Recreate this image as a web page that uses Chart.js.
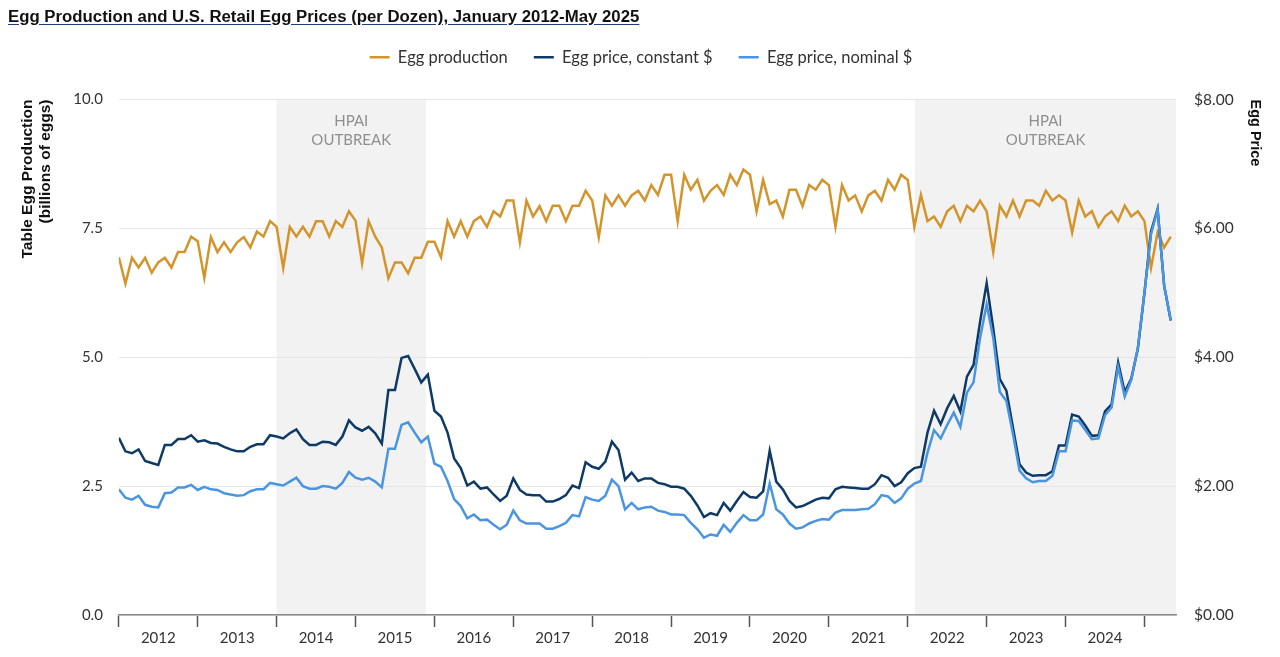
<!DOCTYPE html>
<html>
<head>
<meta charset="utf-8">
<script src="https://cdn.jsdelivr.net/npm/chart.js@4.4.1/dist/chart.umd.min.js"></script>
<style>
  html, body { margin: 0; padding: 0; background: #fff; }
  #wrap { position: relative; width: 1280px; height: 657px; }
  #titre {
    position: absolute; left: 8px; top: 7px;
    font-family: "Liberation Sans", Arial, sans-serif;
    font-weight: bold; font-size: 16.8px; color: #111;
    text-decoration: underline; text-decoration-color: #1f3f7a;
    text-underline-offset: 2px;
    z-index: 2;
  }
  canvas { position: absolute; left: 0; top: 0; }
</style>
</head>
<body>
<div id="wrap">
  <div id="titre">Egg Production and U.S. Retail Egg Prices (per Dozen), January 2012-May 2025</div>
  <canvas id="grafico" width="1280" height="657"></canvas>
</div>
<script>
// --- Dados (jan 2012 - mai 2025, mensal) ---
const anos = ['2012', '2013', '2014', '2015', '2016', '2017', '2018', '2019', '2020', '2021', '2022', '2023', '2024'];

// produção de ovos de mesa (bilhões)
const producao = [
    6.94, 6.43, 6.93, 6.74, 6.93, 6.64, 6.84, 6.93, 6.74, 7.04, 7.04, 7.34,
    7.25, 6.54, 7.33, 7.04, 7.23, 7.04, 7.23, 7.33, 7.13, 7.44, 7.34, 7.64,
    7.53, 6.73, 7.53, 7.34, 7.53, 7.34, 7.64, 7.64, 7.34, 7.64, 7.53, 7.83,
    7.65, 6.82, 7.64, 7.34, 7.13, 6.53, 6.84, 6.84, 6.63, 6.93, 6.93, 7.24,
    7.24, 6.94, 7.64, 7.34, 7.64, 7.34, 7.64, 7.73, 7.53, 7.83, 7.73, 8.04,
    8.04, 7.23, 8.04, 7.73, 7.93, 7.64, 7.94, 7.94, 7.64, 7.94, 7.94, 8.23,
    8.04, 7.33, 8.14, 7.94, 8.14, 7.94, 8.14, 8.23, 8.04, 8.34, 8.15, 8.54,
    8.54, 7.64, 8.54, 8.25, 8.44, 8.04, 8.23, 8.34, 8.15, 8.54, 8.34, 8.64,
    8.54, 7.83, 8.44, 7.97, 8.04, 7.73, 8.25, 8.25, 7.93, 8.34, 8.25, 8.44,
    8.34, 7.53, 8.34, 8.04, 8.14, 7.83, 8.14, 8.23, 8.04, 8.44, 8.25, 8.54,
    8.44, 7.53, 8.15, 7.64, 7.73, 7.53, 7.83, 7.94, 7.64, 7.94, 7.83, 8.04,
    7.83, 7.04, 7.94, 7.73, 8.04, 7.73, 8.04, 8.04, 7.94, 8.23, 8.04, 8.14,
    8.04, 7.42, 8.04, 7.73, 7.83, 7.53, 7.73, 7.83, 7.64, 7.94, 7.73, 7.83,
    7.64, 6.73, 7.42, 7.13, 7.34
];

// preço, dólares constantes
const precoConstante = [
    2.75, 2.54, 2.51, 2.57, 2.39, 2.36, 2.33, 2.64, 2.64, 2.73, 2.73, 2.79,
    2.69, 2.71, 2.67, 2.66, 2.61, 2.57, 2.54, 2.54, 2.61, 2.65, 2.65, 2.79,
    2.77, 2.74, 2.82, 2.88, 2.73, 2.64, 2.64, 2.69, 2.68, 2.64, 2.77, 3.02,
    2.91, 2.86, 2.92, 2.82, 2.66, 3.49, 3.49, 3.99, 4.02, 3.82, 3.61, 3.73,
    3.17, 3.08, 2.83, 2.43, 2.28, 2.01, 2.07, 1.96, 1.98, 1.87, 1.77, 1.85,
    2.12, 1.94, 1.87, 1.86, 1.86, 1.76, 1.76, 1.80, 1.86, 2.01, 1.97, 2.37,
    2.30, 2.27, 2.38, 2.69, 2.56, 2.10, 2.21, 2.08, 2.12, 2.12, 2.05, 2.03,
    1.99, 1.99, 1.96, 1.85, 1.70, 1.52, 1.58, 1.55, 1.74, 1.62, 1.77, 1.91,
    1.83, 1.82, 1.92, 2.55, 2.07, 1.95, 1.77, 1.67, 1.69, 1.74, 1.79, 1.82,
    1.81, 1.95, 1.99, 1.98, 1.97, 1.96, 1.96, 2.03, 2.17, 2.13, 2.00, 2.06,
    2.20, 2.28, 2.30, 2.83, 3.17, 2.96, 3.21, 3.40, 3.16, 3.70, 3.88, 4.55,
    5.15, 4.45, 3.66, 3.48, 2.91, 2.34, 2.21, 2.16, 2.17, 2.17, 2.23, 2.63,
    2.63, 3.11, 3.08, 2.94, 2.78, 2.79, 3.16, 3.27, 3.92, 3.46, 3.67, 4.13,
    5.00, 5.95, 6.30, 5.11, 4.57
];

// preço, dólares nominais
const precoNominal = [
    1.95, 1.82, 1.79, 1.85, 1.71, 1.68, 1.67, 1.89, 1.90, 1.98, 1.98, 2.02,
    1.94, 1.99, 1.95, 1.94, 1.89, 1.87, 1.85, 1.86, 1.92, 1.95, 1.95, 2.05,
    2.03, 2.01, 2.07, 2.13, 2.00, 1.96, 1.96, 2.00, 1.99, 1.96, 2.05, 2.22,
    2.13, 2.10, 2.13, 2.07, 1.98, 2.58, 2.58, 2.95, 2.99, 2.83, 2.68, 2.77,
    2.35, 2.30, 2.08, 1.80, 1.69, 1.50, 1.56, 1.47, 1.48, 1.40, 1.33, 1.40,
    1.62, 1.47, 1.42, 1.42, 1.42, 1.34, 1.34, 1.38, 1.43, 1.55, 1.53, 1.83,
    1.79, 1.77, 1.85, 2.10, 2.00, 1.64, 1.74, 1.64, 1.67, 1.68, 1.62, 1.60,
    1.56, 1.56, 1.55, 1.43, 1.33, 1.20, 1.25, 1.23, 1.40, 1.29, 1.43, 1.55,
    1.47, 1.47, 1.56, 2.04, 1.64, 1.56, 1.42, 1.34, 1.36, 1.42, 1.46, 1.49,
    1.48, 1.59, 1.63, 1.63, 1.63, 1.64, 1.65, 1.72, 1.86, 1.84, 1.74, 1.81,
    1.96, 2.04, 2.08, 2.52, 2.87, 2.74, 2.95, 3.14, 2.92, 3.45, 3.61, 4.30,
    4.82, 4.30, 3.46, 3.32, 2.81, 2.24, 2.12, 2.06, 2.08, 2.08, 2.16, 2.54,
    2.54, 3.02, 3.01, 2.87, 2.73, 2.74, 3.10, 3.22, 3.85, 3.39, 3.65, 4.15,
    5.00, 5.91, 6.29, 5.11, 4.57
];

// períodos de surto de HPAI (índice do mês, início/fim)
const surtos = [[24, 46.7], [121.1, 160.8]];
const surtoTexto = ['HPAI', 'OUTBREAK'];

const yProducaoTicks = [0, 2.5, 5, 7.5, 10];
const yPrecoTicks = [0, 2, 4, 6, 8];

// --- Helpers ---
function pontos(arr) {
    return arr.map((v, i) => ({ x: i, y: v }));
}

const fonteTick = { family: 'Lato, "Open Sans", sans-serif', size: 15 };

// --- Plugin: espaço extra abaixo da legenda ---
const espacoLegenda = {
    id: 'espacoLegenda',
    beforeInit(chart) {
        const fitOriginal = chart.legend.fit;
        chart.legend.fit = function () {
            fitOriginal.bind(chart.legend)();
            this.height += 24;
        };
    }
};

// --- Plugin: faixas cinza do surto ---
const faixasSurto = {
    id: 'faixasSurto',
    beforeDraw(chart) {
        const { ctx, chartArea, scales } = chart;
        const x = scales.x;
        ctx.save();
        ctx.fillStyle = '#f2f2f2';
        surtos.forEach(s => {
            const x0 = x.getPixelForValue(s[0]);
            const x1 = x.getPixelForValue(s[1]);
            ctx.fillRect(x0, chartArea.top, x1 - x0, chartArea.bottom - chartArea.top);
        });
        ctx.restore();
    },
    beforeDatasetsDraw(chart) {
        const { ctx, chartArea, scales } = chart;
        const x = scales.x;
        ctx.save();
        ctx.fillStyle = '#8f8f8f';
        ctx.font = '15px Lato, "Open Sans", sans-serif';
        ctx.textAlign = 'center';
        ctx.textBaseline = 'middle';
        surtos.forEach(s => {
            const cx = (x.getPixelForValue(s[0]) + x.getPixelForValue(s[1])) / 2;
            surtoTexto.forEach((t, k) => {
                ctx.fillText(t, cx, chartArea.top + 22 + k * 19);
            });
        });
        ctx.restore();
    }
};

// --- Gráfico ---
const grafico = new Chart(document.getElementById('grafico'), {
    type: 'line',
    data: {
        datasets: [
            {
                label: 'Egg production',
                data: pontos(producao),
                yAxisID: 'y',
                borderColor: '#D4942C',
                backgroundColor: '#D4942C',
                borderWidth: 2.5,
                pointRadius: 0,
                order: 2
            },
            {
                label: 'Egg price, constant $',
                data: pontos(precoConstante),
                yAxisID: 'y1',
                borderColor: '#0E3A66',
                backgroundColor: '#0E3A66',
                borderWidth: 2.5,
                pointRadius: 0,
                order: 1
            },
            {
                label: 'Egg price, nominal $',
                data: pontos(precoNominal),
                yAxisID: 'y1',
                borderColor: '#4A95E0',
                backgroundColor: '#4A95E0',
                borderWidth: 2.5,
                pointRadius: 0,
                order: 0
            }
        ]
    },
    options: {
        responsive: false,
        animation: false,
        layout: { padding: { left: 18, right: 16, top: 23, bottom: 8 } },
        plugins: {
            legend: {
                position: 'top',
                align: 'center',
                labels: {
                    usePointStyle: true,
                    pointStyle: 'line',
                    pointStyleWidth: 20,
                    boxHeight: 14,
                    padding: 26,
                    color: '#333',
                    font: { family: 'Lato, "Open Sans", sans-serif', size: 16.5 },
                    sort: (a, b) => a.datasetIndex - b.datasetIndex
                }
            },
            tooltip: { enabled: false }
        },
        scales: {
            x: {
                type: 'linear',
                min: 0,
                max: 160.8,
                afterBuildTicks(scale) {
                    const t = [];
                    for (let k = 0; k <= anos.length; k++) {
                        t.push({ value: k * 12 });
                        if (k < anos.length) t.push({ value: k * 12 + 6 });
                    }
                    scale.ticks = t;
                },
                ticks: {
                    autoSkip: false,
                    maxRotation: 0,
                    color: '#333',
                    font: fonteTick,
                    padding: 2,
                    callback: v => (v % 12 === 6 ? anos[(v - 6) / 12] : '')
                },
                grid: {
                    drawOnChartArea: false,
                    drawTicks: true,
                    tickLength: 12,
                    tickWidth: 1.5,
                    tickColor: c => (c.tick && c.tick.value % 12 === 0 ? '#555' : 'rgba(0,0,0,0)')
                },
                border: { display: true, color: '#888', width: 1.5 }
            },
            y: {
                position: 'left',
                min: 0,
                max: 10,
                afterBuildTicks(scale) {
                    scale.ticks = yProducaoTicks.map(v => ({ value: v }));
                },
                ticks: {
                    color: '#333',
                    font: fonteTick,
                    padding: 16,
                    callback: v => v.toFixed(1)
                },
                grid: { color: '#e6e6e6', lineWidth: 1, drawTicks: false },
                border: { display: false },
                title: {
                    display: true,
                    text: ['Table Egg Production', '(billions of eggs)'],
                    align: 'end',
                    color: '#111',
                    font: { family: '"Liberation Sans", Arial, sans-serif', size: 15.5, weight: 'bold' },
                    padding: { top: 0, bottom: 2 }
                }
            },
            y1: {
                position: 'right',
                min: 0,
                max: 8,
                afterBuildTicks(scale) {
                    scale.ticks = yPrecoTicks.map(v => ({ value: v }));
                },
                afterFit(scale) {
                    scale.width = 88;
                },
                ticks: {
                    color: '#333',
                    font: { family: 'Lato, "Open Sans", sans-serif', size: 15.5 },
                    padding: 18,
                    callback: v => '$' + v.toFixed(2)
                },
                grid: { drawOnChartArea: false, drawTicks: false },
                border: { display: false },
                title: {
                    display: true,
                    text: 'Egg Price',
                    align: 'end',
                    color: '#111',
                    font: { family: '"Liberation Sans", Arial, sans-serif', size: 14.5, weight: 'bold' },
                    padding: { top: 0, bottom: 0 }
                }
            }
        }
    },
    plugins: [espacoLegenda, faixasSurto]
});
</script>
</body>
</html>
